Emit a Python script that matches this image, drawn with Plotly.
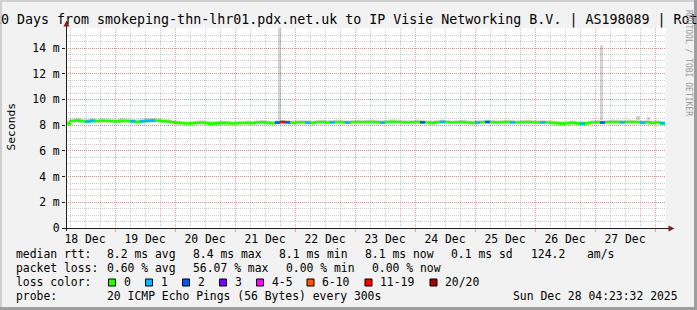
import pandas as pd
import plotly.graph_objects as go

# ---------------- data ----------------
START = "2025-12-18 04:23:32"
END = "2025-12-28 04:23:32"
sample_start = "2025-12-18 04:00"   # 2-hour samples
median_ms = [
    8.12, 8.32, 8.35, 8.30, 8.28, 8.33, 8.30, 8.34, 8.32, 8.30, 8.29, 8.33,
    8.32, 8.30, 8.25, 8.30, 8.33, 8.35, 8.34, 8.30, 8.28, 8.22, 8.18, 8.15,
    8.13, 8.15, 8.18, 8.20, 8.15, 8.12, 8.14, 8.18, 8.16, 8.13, 8.15, 8.17,
    8.18, 8.15, 8.20, 8.22, 8.18, 8.15, 8.20, 8.24, 8.22, 8.18, 8.20, 8.22,
    8.20, 8.18, 8.22, 8.24, 8.20, 8.22, 8.25, 8.23, 8.20, 8.22, 8.24, 8.22,
    8.24, 8.25, 8.22, 8.20, 8.24, 8.26, 8.25, 8.22, 8.20, 8.22, 8.24, 8.22,
    8.20, 8.18, 8.22, 8.25, 8.22, 8.20, 8.22, 8.24, 8.20, 8.18, 8.20, 8.22,
    8.24, 8.22, 8.20, 8.23, 8.25, 8.22, 8.20, 8.22, 8.24, 8.22, 8.20, 8.22,
    8.20, 8.18, 8.15, 8.12, 8.15, 8.18, 8.14, 8.12, 8.15, 8.20, 8.22, 8.20,
    8.22, 8.25, 8.24, 8.22, 8.25, 8.24, 8.22, 8.20, 8.22, 8.18, 8.20, 8.15,
    8.15,
]
smoke_top_ms = [
    8.30, 8.50, 8.55, 8.50, 8.48, 8.55, 8.50, 8.56, 8.52, 8.50, 8.48, 8.55,
    8.52, 8.50, 8.45, 8.52, 8.55, 8.56, 8.55, 8.52, 8.48, 8.42, 8.36, 8.32,
    8.30, 8.32, 8.36, 8.38, 8.32, 8.30, 8.32, 8.36, 8.34, 8.30, 8.32, 8.35,
    8.36, 8.32, 8.38, 8.40, 8.36, 8.32, 8.38, 8.42, 8.40, 8.36, 8.38, 8.40,
    8.38, 8.36, 8.40, 8.42, 8.38, 8.40, 8.44, 8.42, 8.38, 8.40, 8.42, 8.40,
    8.42, 8.44, 8.40, 8.38, 8.42, 8.45, 8.44, 8.40, 8.38, 8.40, 8.42, 8.40,
    8.38, 8.36, 8.40, 8.44, 8.40, 8.38, 8.40, 8.42, 8.38, 8.36, 8.38, 8.40,
    8.42, 8.40, 8.38, 8.41, 8.44, 8.40, 8.38, 8.40, 8.42, 8.40, 8.38, 8.40,
    8.38, 8.36, 8.32, 8.30, 8.33, 8.36, 8.32, 8.30, 8.33, 8.38, 8.40, 8.38,
    8.40, 8.44, 8.42, 8.40, 8.44, 8.42, 8.40, 8.38, 8.40, 8.36, 8.38, 8.33,
    8.33,
]
smoke_bottom_ms = [
    8.05, 8.25, 8.28, 8.24, 8.22, 8.27, 8.24, 8.28, 8.26, 8.24, 8.23, 8.27,
    8.26, 8.24, 8.19, 8.24, 8.27, 8.29, 8.28, 8.24, 8.22, 8.16, 8.12, 8.09,
    8.07, 8.09, 8.12, 8.14, 8.09, 8.06, 8.08, 8.12, 8.10, 8.07, 8.09, 8.11,
    8.12, 8.09, 8.14, 8.16, 8.12, 8.09, 8.14, 8.18, 8.16, 8.12, 8.14, 8.16,
    8.14, 8.12, 8.16, 8.18, 8.14, 8.16, 8.19, 8.17, 8.14, 8.16, 8.18, 8.16,
    8.18, 8.19, 8.16, 8.14, 8.18, 8.20, 8.19, 8.16, 8.14, 8.16, 8.18, 8.16,
    8.14, 8.12, 8.16, 8.19, 8.16, 8.14, 8.16, 8.18, 8.14, 8.12, 8.14, 8.16,
    8.18, 8.16, 8.14, 8.17, 8.19, 8.16, 8.14, 8.16, 8.18, 8.16, 8.14, 8.16,
    8.14, 8.12, 8.09, 8.06, 8.09, 8.12, 8.08, 8.06, 8.09, 8.14, 8.16, 8.14,
    8.16, 8.19, 8.18, 8.16, 8.19, 8.18, 8.16, 8.14, 8.16, 8.12, 8.14, 8.09,
    8.09,
]
loss_count = [
    0, 0, 0, 0, 1, 1, 0, 0, 0, 0, 0, 0,
    0, 1, 0, 1, 1, 1, 0, 0, 0, 0, 0, 0,
    0, 0, 0, 0, 0, 0, 0, 0, 0, 0, 0, 0,
    0, 0, 0, 0, 0, 0, 2, 12, 2, 0, 0, 0,
    1, 0, 0, 0, 0, 1, 0, 0, 1, 0, 0, 0,
    0, 0, 0, 1, 0, 0, 0, 0, 0, 0, 0, 2,
    0, 0, 0, 1, 0, 0, 0, 0, 0, 0, 1, 0,
    2, 0, 0, 0, 0, 1, 0, 0, 0, 0, 0, 1,
    0, 0, 0, 0, 0, 0, 0, 1, 0, 0, 0, 2,
    0, 0, 0, 1, 0, 0, 0, 1, 0, 0, 0, 1,
    0,
]
spike_times = ["2025-12-21 17:40", "2025-12-27 02:40", "2025-12-27 17:10", "2025-12-27 21:30"]
spike_tops_ms = [20.0, 14.2, 8.7, 8.6]
spike_bases_ms = [8.4, 8.4, 8.4, 8.4]

loss_labels = ["0", "1", "2", "3", "4-5", "6-10", "11-19", "20/20"]
loss_colors = ["#26ff00", "#00b8ff", "#0059ff", "#7e00ff", "#ff00ff", "#ff5500", "#ff0000", "#a00000"]
loss_upper = [0, 1, 2, 3, 5, 10, 19, 20]

y_tickvals = [0, 2, 4, 6, 8, 10, 12, 14]
y_ticktext = ["0", "2 m", "4 m", "6 m", "8 m", "10 m", "12 m", "14 m"]

title_text = "10 Days from smokeping-thn-lhr01.pdx.net.uk to IP Visie Networking B.V. | AS198089 | Rot"
stat_rows = [
    [("median rtt:", 16), ("8.2 ms avg", 107), ("8.4 ms max", 193), ("8.1 ms min", 279),
     ("8.1 ms now", 365), ("0.1 ms sd", 451), ("124.2", 531), ("am/s", 587)],
    [("packet loss:", 16), ("0.60 % avg", 107), ("56.07 % max", 193), ("0.00 % min", 286),
     ("0.00 % now", 372.5)],
    [("loss color:", 16)],
    [("probe:", 16), ("20 ICMP Echo Pings (56 Bytes) every 300s", 107),
     ("Sun Dec 28 04:23:32 2025", 513)],
]
row_y = [254.3, 268.3, 282.3, 296.2]
box_x = [108.5, 145.5, 182.5, 219.5, 256.5, 307, 365, 430]

# ---------------- geometry helpers ----------------
W, H = 697, 310
L, R, T, B = 66, 666, 28, 228
def px(x):
    return (x - L) / (R - L)
def py(y):
    return (B - y) / (B - T)

FONT = "DejaVu Sans Mono"
times = pd.date_range(sample_start, periods=len(median_ms), freq="2h")
step = pd.Timedelta(hours=2)

def loss_bin(c):
    for i, u in enumerate(loss_upper):
        if c <= u:
            return i
    return len(loss_upper) - 1

fig = go.Figure()

# smoke
fig.add_trace(go.Scatter(x=times, y=smoke_bottom_ms, mode="lines", line=dict(width=0, shape="hv"),
                         hoverinfo="skip", showlegend=False))
fig.add_trace(go.Scatter(x=times, y=smoke_top_ms, mode="lines", line=dict(width=0, shape="hv"),
                         fill="tonexty", fillcolor="rgba(0,0,0,0.15)", hoverinfo="skip", showlegend=False))
# spikes
fig.add_trace(go.Bar(x=pd.to_datetime(spike_times),
                     y=[t - b for t, b in zip(spike_tops_ms, spike_bases_ms)],
                     base=spike_bases_ms, width=80 * 60 * 1000,
                     marker=dict(color="rgba(0,0,0,0.17)", line=dict(width=0)),
                     hoverinfo="skip", showlegend=False))

# median, coloured by loss
fig.add_trace(go.Scatter(x=times, y=median_ms, mode="lines",
                         line=dict(color=loss_colors[0], width=2.6, shape="hv"),
                         hoverinfo="skip", showlegend=False))
for b in range(1, len(loss_colors)):
    xs, ys = [], []
    for t, v, c in zip(times, median_ms, loss_count):
        if loss_bin(c) == b:
            xs += [t, t + step, None]
            ys += [v, v, None]
    if xs:
        fig.add_trace(go.Scatter(x=xs, y=ys, mode="lines",
                                 line=dict(color=loss_colors[b], width=2.6),
                                 hoverinfo="skip", showlegend=False))

shapes = []
# borders
shapes.append(dict(type="rect", xref="paper", yref="paper", x0=px(0), x1=px(W), y0=py(0), y1=py(2),
                   fillcolor="#cfcfcf", line=dict(width=0), layer="above"))
shapes.append(dict(type="rect", xref="paper", yref="paper", x0=px(0), x1=px(2), y0=py(0), y1=py(H),
                   fillcolor="#cfcfcf", line=dict(width=0), layer="above"))
shapes.append(dict(type="rect", xref="paper", yref="paper", x0=px(0), x1=px(W), y0=py(H - 3), y1=py(H),
                   fillcolor="#9e9e9e", line=dict(width=0), layer="above"))
shapes.append(dict(type="rect", xref="paper", yref="paper", x0=px(W - 3), x1=px(W), y0=py(0), y1=py(H),
                   fillcolor="#9e9e9e", line=dict(width=0), layer="above"))
# axes lines
shapes.append(dict(type="line", xref="paper", yref="paper", x0=px(66.5), x1=px(66.5), y0=py(231), y1=py(24),
                   line=dict(color="#1f1f1f", width=1), layer="above"))
shapes.append(dict(type="line", xref="paper", yref="paper", x0=px(62), x1=px(670), y0=py(228.5), y1=py(228.5),
                   line=dict(color="#1f1f1f", width=1), layer="above"))
# arrows
shapes.append(dict(type="path", xref="paper", yref="paper",
                   path=f"M {px(63.5)} {py(26.5)} L {px(69.5)} {py(26.5)} L {px(66.5)} {py(20.5)} Z",
                   fillcolor="#801f1f", line=dict(width=0), layer="above"))
shapes.append(dict(type="path", xref="paper", yref="paper",
                   path=f"M {px(668.5)} {py(225.5)} L {px(668.5)} {py(231.5)} L {px(674.5)} {py(228.5)} Z",
                   fillcolor="#801f1f", line=dict(width=0), layer="above"))
# legend colour boxes
for bx, col in zip(box_x, loss_colors):
    shapes.append(dict(type="rect", xref="paper", yref="paper", x0=px(bx), x1=px(bx + 7),
                       y0=py(286), y1=py(279), fillcolor=col, line=dict(color="black", width=1)))

ann = []
ann.append(dict(text=title_text, x=px(-9.5), y=py(20), xref="paper", yref="paper", xanchor="left",
                yanchor="middle", showarrow=False, font=dict(family=FONT, size=13.3, color="black")))
ann.append(dict(text="RRDTOOL / TOBI OETIKER", x=px(689), y=py(63), xref="paper", yref="paper",
                textangle=90, xanchor="center", yanchor="middle", showarrow=False,
                font=dict(family=FONT, size=8, color="#999999")))
ann.append(dict(text="Seconds", x=px(10.5), y=py(127), xref="paper", yref="paper",
                textangle=-90, xanchor="center", yanchor="middle", showarrow=False,
                font=dict(family=FONT, size=11.3, color="black")))
for row, yy in zip(stat_rows, row_y):
    for txt, xx in row:
        ann.append(dict(text=txt, x=px(xx - 2), y=py(yy), xref="paper", yref="paper", xanchor="left",
                        yanchor="middle", showarrow=False, font=dict(family=FONT, size=11.4, color="black")))
for bx, lab in zip(box_x, loss_labels):
    ann.append(dict(text=lab, x=px(bx + 15 - 2), y=py(row_y[2]), xref="paper", yref="paper",
                    xanchor="left", yanchor="middle", showarrow=False,
                    font=dict(family=FONT, size=11.4, color="black")))

GRID = "rgba(143,143,143,0.45)"
MGRID = "rgba(222,79,79,0.5)"

fig.update_layout(
    width=W, height=H,
    margin=dict(l=L, r=W - R, t=T, b=H - B, pad=0),
    paper_bgcolor="#f2f2f2", plot_bgcolor="#ffffff",
    showlegend=False, bargap=0,
    shapes=shapes, annotations=ann,
    font=dict(family=FONT, size=11.4, color="black"),
    xaxis=dict(type="date", range=[START, END], dtick=86400000, tick0="2025-12-18",
               ticklabelmode="period", tickformat="%d %b",
               showgrid=True, gridcolor=MGRID, griddash="1px,1px", gridwidth=1,
               ticks="outside", ticklen=3, tickcolor=MGRID, ticklabelstandoff=-3,
               minor=dict(dtick=6 * 3600000, showgrid=True, gridcolor=GRID, griddash="1px,1px", ticks=""),
               showline=False, zeroline=False,
               tickfont=dict(family=FONT, size=11.4, color="black")),
    yaxis=dict(range=[0, 200 / 12.857], tickvals=y_tickvals, ticktext=y_ticktext,
               showgrid=True, gridcolor=MGRID, griddash="1px,1px", gridwidth=1,
               ticks="outside", ticklen=3, tickcolor="#1f1f1f",
               minor=dict(dtick=0.5, showgrid=True, gridcolor=GRID, griddash="1px,1px", ticks=""),
               showline=False, zeroline=False,
               tickfont=dict(family=FONT, size=11.4, color="black")),
)

fig.write_html("out.html")
